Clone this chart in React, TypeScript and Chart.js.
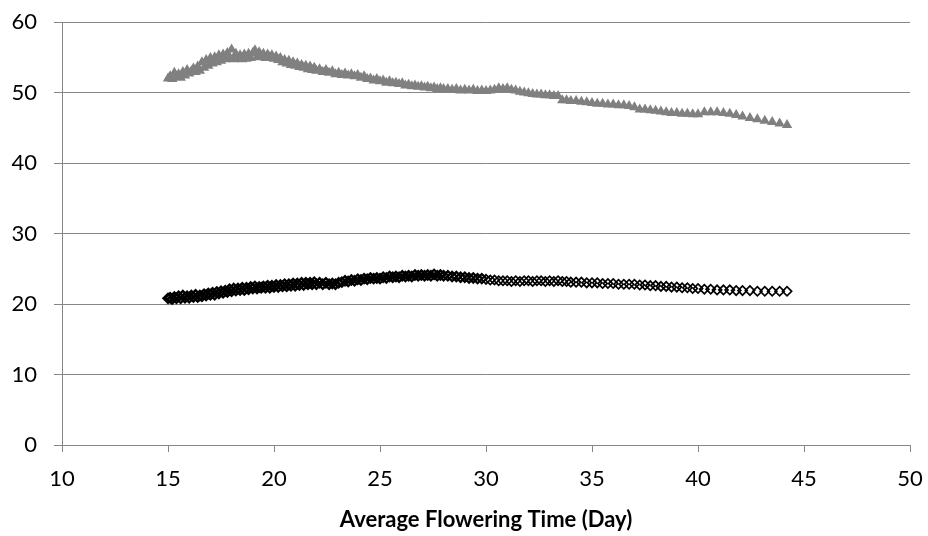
import React, { useEffect, useRef } from "react";
import { Chart, registerables } from "chart.js";

Chart.register(...registerables);

// Average flowering time (day) — shared x values of both series
const flowerDays: number[] = [
  // 15.0 – 22.0
  15.0, 15.1, 15.2, 15.3, 15.4, 15.5, 15.6, 15.7, 15.8, 15.9,
  16.0, 16.1, 16.2, 16.3, 16.4, 16.5, 16.6, 16.7, 16.8, 16.9,
  17.0, 17.1, 17.2, 17.3, 17.4, 17.5, 17.6, 17.7, 17.8, 17.9,
  18.0, 18.1, 18.2, 18.3, 18.4, 18.5, 18.6, 18.7, 18.8, 18.9,
  19.0, 19.1, 19.2, 19.3, 19.4, 19.5, 19.6, 19.7, 19.8, 19.9,
  20.0, 20.1, 20.2, 20.3, 20.4, 20.5, 20.6, 20.7, 20.8, 20.9,
  21.0, 21.1, 21.2, 21.3, 21.4, 21.5, 21.6, 21.7, 21.8, 21.9,
  22.0,
  // 22.15 – 28.0
  22.15, 22.3, 22.45, 22.6, 22.75, 22.9, 23.05, 23.2, 23.35, 23.5,
  23.65, 23.8, 23.95, 24.1, 24.25, 24.4, 24.55, 24.7, 24.85, 25.0,
  25.15, 25.3, 25.45, 25.6, 25.75, 25.9, 26.05, 26.2, 26.35, 26.5,
  26.65, 26.8, 26.95, 27.1, 27.25, 27.4, 27.55, 27.7, 27.85, 28.0,
  // 28.2 – 34.0
  28.2, 28.4, 28.6, 28.8, 29.0, 29.2, 29.4, 29.6, 29.8, 30.0,
  30.2, 30.4, 30.6, 30.8, 31.0, 31.2, 31.4, 31.6, 31.8, 32.0,
  32.2, 32.4, 32.6, 32.8, 33.0, 33.2, 33.4, 33.6, 33.8, 34.0,
  // 34.25 – 40.0
  34.25, 34.5, 34.75, 35.0, 35.25, 35.5, 35.75, 36.0, 36.25, 36.5, 36.75, 37.0,
  37.25, 37.5, 37.75, 38.0, 38.25, 38.5, 38.75, 39.0, 39.25, 39.5, 39.75, 40.0,
  // 40.3 – 44.2
  40.3, 40.6, 40.9, 41.2, 41.5, 41.8, 42.1, 42.45, 42.8, 43.15, 43.5, 43.85, 44.2,
];

// Upper series (grey triangles)
const upperValues: number[] = [
  52.0, 52.3, 51.9, 52.8, 52.2, 52.6, 52.1, 52.9, 52.4, 53.2,
  52.7, 53.0, 53.4, 52.9, 53.7, 53.1, 54.3, 53.5, 54.6, 53.8,
  54.9, 54.1, 55.0, 54.3, 55.3, 54.5, 55.4, 54.7, 55.6, 54.8,
  56.1, 54.7, 55.5, 54.8, 55.3, 54.7, 55.4, 54.8, 55.5, 54.9,
  55.6, 56.0, 55.0, 55.7, 55.1, 55.5, 54.9, 55.4, 55.0, 55.3,
  54.8, 55.1, 54.6, 54.9, 54.3, 54.6, 54.1, 54.5, 53.9, 54.3,
  53.8, 54.1, 53.6, 53.9, 53.5, 53.8, 53.3, 53.7, 53.2, 53.5,
  53.1,
  53.3, 52.9, 53.2, 52.8, 53.0, 52.6, 52.8, 52.5, 52.7, 52.4,
  52.6, 52.3, 52.5, 52.1, 52.3, 51.9, 52.0, 51.7, 51.9, 51.6,
  51.7, 51.4, 51.6, 51.3, 51.4, 51.2, 51.3, 51.0, 51.1, 50.9,
  51.0, 50.8, 50.9, 50.7, 50.8, 50.6, 50.7, 50.5, 50.6, 50.5,
  50.5, 50.4, 50.5, 50.3, 50.4, 50.3, 50.4, 50.2, 50.3, 50.2,
  50.3, 50.4, 50.6, 50.5, 50.6, 50.4, 50.3, 50.1, 50.0, 49.9,
  49.8, 49.7, 49.7, 49.6, 49.6, 49.5, 49.5, 48.9, 48.9, 48.8,
  48.8, 48.7, 48.6, 48.5, 48.4, 48.4, 48.3, 48.3, 48.2, 48.2, 48.1, 47.9,
  47.6, 47.6, 47.5, 47.4, 47.3, 47.2, 47.1, 47.1, 47.0, 47.0, 46.9, 46.9,
  47.2, 47.2, 47.2, 47.1, 47.0, 46.8, 46.6, 46.4, 46.2, 46.0, 45.8, 45.6, 45.4,
];

// Lower series (black open diamonds)
const lowerValues: number[] = [
  20.8, 20.9, 20.7, 21.0, 20.8, 21.1, 20.8, 21.2, 20.9, 21.1,
  20.9, 21.2, 21.0, 21.3, 21.0, 21.2, 21.1, 21.4, 21.2, 21.5,
  21.3, 21.6, 21.3, 21.7, 21.5, 21.8, 21.6, 21.9, 21.7, 22.1,
  21.8, 22.2, 21.9, 22.2, 22.0, 22.3, 22.0, 22.3, 22.1, 22.4,
  22.2, 22.5, 22.2, 22.4, 22.3, 22.5, 22.3, 22.6, 22.3, 22.6,
  22.4, 22.7, 22.4, 22.7, 22.5, 22.8, 22.5, 22.8, 22.6, 22.9,
  22.6, 22.9, 22.7, 23.0, 22.7, 23.0, 22.8, 23.0, 22.8, 23.1,
  22.8,
  23.0, 22.8, 23.0, 22.8, 22.9, 22.8, 23.0, 23.1, 23.3, 23.2,
  23.4, 23.3, 23.5, 23.4, 23.6, 23.5, 23.7, 23.6, 23.7, 23.6,
  23.8, 23.7, 23.9, 23.8, 23.9, 23.8, 24.0, 23.9, 24.0, 23.9,
  24.1, 24.0, 24.1, 24.0, 24.1, 24.0, 24.2, 24.0, 24.1, 24.0,
  24.0, 23.9, 23.9, 23.8, 23.8, 23.7, 23.7, 23.6, 23.6, 23.5,
  23.4, 23.4, 23.3, 23.3, 23.3, 23.2, 23.3, 23.2, 23.3, 23.3,
  23.2, 23.3, 23.3, 23.2, 23.3, 23.2, 23.3, 23.2, 23.2, 23.1,
  23.1, 23.1, 23.0, 23.0, 23.0, 22.9, 22.9, 22.9, 22.8, 22.8, 22.8, 22.8,
  22.7, 22.7, 22.6, 22.6, 22.5, 22.5, 22.4, 22.4, 22.3, 22.3, 22.2, 22.2,
  22.1, 22.1, 22.0, 22.0, 22.0, 21.9, 21.9, 21.9, 21.8, 21.8, 21.8, 21.8, 21.8,
];

const xAxisTitle = "Average Flowering Time (Day)";

const W = 928;
const H = 536;
const AXIS_GREY = "#868686";
const FONT_FAMILY = "Lato, 'Open Sans', sans-serif";

export default function App() {
  const canvasRef = useRef<HTMLCanvasElement>(null);

  useEffect(() => {
    document.body.style.margin = "0";
    const canvas = canvasRef.current;
    if (!canvas) return;

    const upperPts = flowerDays.map((x, i) => ({ x, y: upperValues[i] }));
    const lowerPts = flowerDays.map((x, i) => ({ x, y: lowerValues[i] }));

    const chart = new Chart(canvas, {
      type: "scatter",
      data: {
        datasets: [
          {
            label: "Upper",
            data: upperPts,
            pointStyle: "triangle",
            pointRadius: 6,
            pointBackgroundColor: "#808080",
            pointBorderColor: "#808080",
            pointBorderWidth: 0,
            showLine: false,
          },
          {
            label: "Lower",
            data: lowerPts,
            pointStyle: "rectRot",
            pointRadius: 4.6,
            pointBackgroundColor: "rgba(0,0,0,0)",
            pointBorderColor: "#000000",
            // heavier outlines where the reference markers pile up densely
            pointBorderWidth: (c: any) => (c.raw && c.raw.x < 30 ? 2.3 : 1.7),
            showLine: false,
          },
        ],
      },
      options: {
        animation: false,
        responsive: false,
        devicePixelRatio: 1,
        layout: { padding: { left: 0, right: 18, top: 22, bottom: 0 } },
        plugins: {
          legend: { display: false },
          tooltip: { enabled: false },
        },
        scales: {
          x: {
            type: "linear",
            min: 10,
            max: 50,
            ticks: {
              stepSize: 5,
              color: "#000000",
              padding: 14,
              font: { family: FONT_FAMILY, size: 22 },
            },
            grid: {
              drawOnChartArea: false,
              drawTicks: true,
              tickLength: 7,
              color: AXIS_GREY,
              lineWidth: 1,
            },
            border: { color: AXIS_GREY, width: 1 },
            title: {
              display: true,
              text: xAxisTitle,
              color: "#000000",
              font: { family: FONT_FAMILY, size: 22, weight: "bold" },
              padding: { top: 0, bottom: 3 },
            },
            afterFit: (scale: any) => {
              scale.height = 91;
              scale.paddingLeft = 0;
              scale.paddingRight = 0;
            },
          },
          y: {
            type: "linear",
            min: 0,
            max: 60,
            ticks: {
              stepSize: 10,
              color: "#000000",
              padding: 17,
              font: { family: FONT_FAMILY, size: 22 },
            },
            grid: {
              color: AXIS_GREY,
              lineWidth: 1,
              tickLength: 8,
              drawTicks: true,
            },
            border: { color: AXIS_GREY, width: 1 },
            afterFit: (scale: any) => {
              scale.width = 62;
              scale.paddingTop = 0;
              scale.paddingBottom = 0;
            },
          },
        },
      } as any,
    });

    if ((document as any).fonts && (document as any).fonts.load) {
      Promise.all([
        (document as any).fonts.load("22px Lato"),
        (document as any).fonts.load("bold 22px Lato"),
      ])
        .then(() => chart.update())
        .catch(() => {});
    }

    return () => {
      chart.destroy();
    };
  }, []);

  return (
    <div style={{ position: "absolute", left: 0, top: 0, width: W, height: H, background: "#ffffff" }}>
      <canvas ref={canvasRef} width={W} height={H} style={{ width: W, height: H, display: "block" }} />
    </div>
  );
}
